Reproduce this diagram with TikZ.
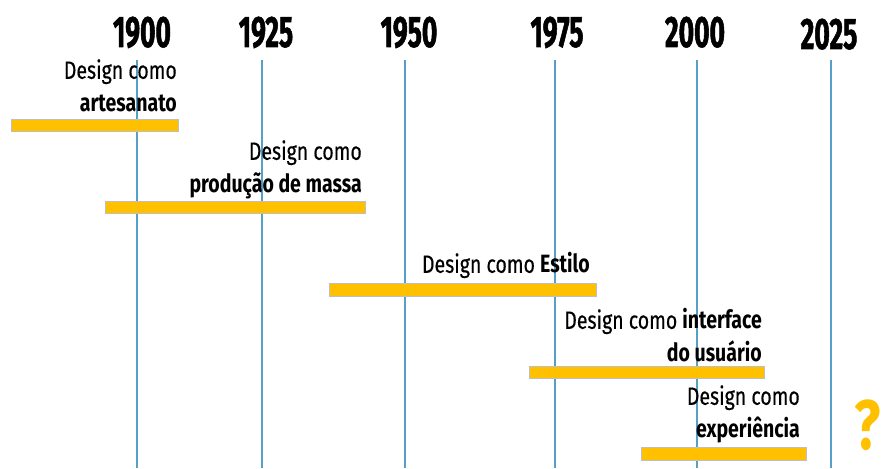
\documentclass[tikz,border=0pt]{standalone}
\usepackage{fontspec}
\setmainfont{Fira Sans}[FakeStretch=0.78, UprightFeatures={FakeBold=0.4}]
\newfontfamily\yearfont{Fira Sans}[FakeStretch=0.6, BoldFeatures={FakeBold=1.2}]
\usetikzlibrary{positioning}

\definecolor{barcol}{RGB}{255,192,0}
\definecolor{linecol}{RGB}{84,160,200}

\begin{document}
\begin{tikzpicture}[x=1pt,y=-1pt,
    bar/.style={fill=barcol, draw=black!25, line width=0.4pt, inner sep=0pt,
      minimum height=12.5pt, anchor=west},
    stagetext/.style={font=\fontsize{25}{33}\selectfont, align=right, inner sep=0pt,
      text depth=0pt, anchor=south east},
    yearlabel/.style={font=\yearfont\bfseries\fontsize{44}{44}\selectfont,
      inner sep=0pt, anchor=base},
    yearline/.style={draw=linecol, line width=1.3pt}]
  \useasboundingbox (0,0) rectangle (890,468);

  % year grid lines and labels
  \foreach \yr/\lx/\tx/\ty in {1900/137/142/47, 1925/262/266/47, 1950/405/409/47,
      1975/555/557/47, 2000/697/695/47, 2025/831/829/49} {
    \coordinate (t\yr) at (\lx,60);
    \coordinate (b\yr) at (\lx,468);
    \draw[yearline] (t\yr) -- (b\yr);
    \node[yearlabel] (y\yr) at (\tx,\ty) {\yr};
  }

  % stage bars
  \foreach \name/\x/\y/\w in {art/11/125/167, mass/105/207/260, estilo/329/289.5/267,
      ui/529/372/235, exp/641/453.5/165} {
    \node[bar, minimum width=\w] (\name) at (\x,\y) {};
  }

  % stage names
  \node[stagetext] (artTxt) at (177,112) {Design como\\\textbf{artesanato}};
  \node[stagetext] (massTxt) at (362,193) {Design como\\\textbf{produção de massa}};
  \node[stagetext] (estiloTxt) at (590,273) {Design como \textbf{Estilo}};
  \node[stagetext] (uiTxt) at (762,362) {Design como \textbf{interface}\\\textbf{do usuário}};
  \node[stagetext] (expTxt) at (800,438) {Design como\\\textbf{experiência}};

  \node[font=\bfseries\fontsize{70}{70}\selectfont, text=barcol, inner sep=0pt,
    anchor=base] (next) at (868,449) {?};
\end{tikzpicture}
\end{document}
